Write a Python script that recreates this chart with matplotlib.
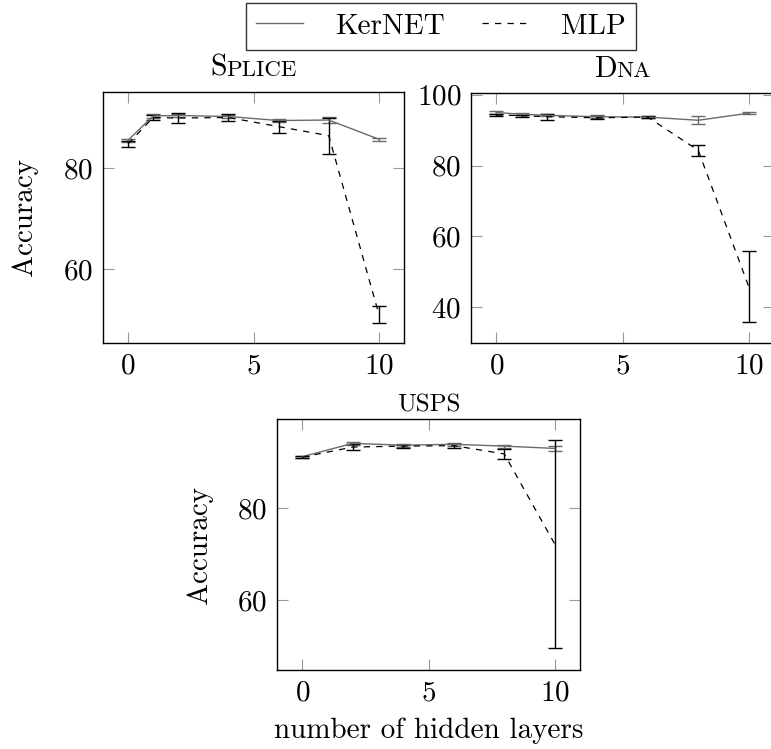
import numpy as np
import matplotlib
matplotlib.use("Agg")
import matplotlib.pyplot as plt
from matplotlib.offsetbox import TextArea, HPacker, AnchoredOffsetbox
from matplotlib.lines import Line2D

# dados (média e desvio)
camadas_splice = [0, 1, 2, 4, 6, 8, 10]
splice_kernet = [85.5, 90.3, 90.4, 90.2, 89.4, 89.5, 85.7]
splice_kernet_err = [0.3, 0.3, 0.3, 0.3, 0.3, 0.6, 0.3]
splice_mlp = [84.8, 90.0, 89.9, 90.0, 88.2, 86.4, 51.0]
splice_mlp_err = [0.6, 0.4, 0.9, 0.6, 1.2, 3.6, 1.6]

camadas_dna = [0, 1, 2, 4, 6, 8, 10]
dna_kernet = [95.0, 94.5, 94.2, 93.8, 93.7, 92.8, 94.8]
dna_kernet_err = [0.3, 0.3, 0.3, 0.4, 0.3, 1.1, 0.2]
dna_mlp = [94.3, 94.1, 93.8, 93.5, 93.7, 84.3, 45.8]
dna_mlp_err = [0.3, 0.3, 0.8, 0.4, 0.3, 1.5, 10.0]

camadas_usps = [0, 2, 4, 6, 8, 10]
usps_kernet = [91.2, 94.1, 93.7, 93.9, 93.5, 93.0]
usps_kernet_err = [0.2, 0.3, 0.3, 0.3, 0.3, 0.6]
usps_mlp = [91.1, 93.3, 93.5, 93.6, 91.8, 72.2]
usps_mlp_err = [0.2, 0.6, 0.3, 0.4, 1.0, 22.6]

FONTE = 21
T_GRANDE = 21.5
T_PEQUENO = 16.5
CINZA = "#6a6a6a"

plt.rcParams["font.family"] = ["cmr10", "DejaVu Serif"]
plt.rcParams["axes.formatter.use_mathtext"] = True
plt.rcParams["font.size"] = FONTE


def titulo(ax, grande, pequeno, y, tam_pequeno=T_PEQUENO):
    # versaletes simuladas: letra grande + resto menor
    partes = []
    if grande:
        partes.append(TextArea(grande, textprops=dict(fontsize=T_GRANDE)))
    if pequeno:
        partes.append(TextArea(pequeno, textprops=dict(fontsize=tam_pequeno)))
    caixa = HPacker(children=partes, align="baseline", pad=0, sep=0)
    anc = AnchoredOffsetbox(loc="lower center", child=caixa, pad=0, borderpad=0,
                            bbox_to_anchor=(0.5, y), bbox_transform=ax.transAxes,
                            frameon=False)
    ax.add_artist(anc)


def desenhar(ax, x, k, k_err, m, m_err, ylim, yticks):
    ax.errorbar(x, k, yerr=k_err, color=CINZA, lw=1.0, elinewidth=1.0,
                capsize=5, capthick=1.0)
    ax.errorbar(x, m, yerr=m_err, color="black", lw=0.9, ls=(0, (5, 5)),
                elinewidth=1.0, capsize=5, capthick=1.0)
    ax.set_xlim(-1, 11)
    ax.set_ylim(*ylim)
    ax.set_xticks([0, 5, 10])
    ax.set_yticks(yticks)
    ax.tick_params(direction="in", top=True, right=True, length=8, width=0.8,
                   color="#999999", labelsize=FONTE, pad=7)
    for s in ax.spines.values():
        s.set_linewidth(1.0)


fig = plt.figure(figsize=(7.71, 7.49), dpi=100)

ax1 = fig.add_axes([103 / 771, 1 - 343 / 749, 301 / 771, 251 / 749])
desenhar(ax1, camadas_splice, splice_kernet, splice_kernet_err,
         splice_mlp, splice_mlp_err, (45.35, 95.05), [60, 80])
ax1.set_ylabel("Accuracy", fontsize=FONTE)
ax1.yaxis.set_label_coords(-0.216, 0.5)
titulo(ax1, "S", "PLICE", 1.04)

ax2 = fig.add_axes([471 / 771, 1 - 343 / 749, 303 / 771, 250 / 749])
desenhar(ax2, camadas_dna, dna_kernet, dna_kernet_err,
         dna_mlp, dna_mlp_err, (29.9, 100.5), [40, 60, 80, 100])
titulo(ax2, "D", "NA", 1.04)

ax3 = fig.add_axes([277 / 771, 1 - 670 / 749, 303 / 771, 251 / 749])
desenhar(ax3, camadas_usps, usps_kernet, usps_kernet_err,
         usps_mlp, usps_mlp_err, (44.8, 99.4), [60, 80])
ax3.set_ylabel("Accuracy", fontsize=FONTE)
ax3.yaxis.set_label_coords(-0.211, 0.5)
ax3.set_xlabel("number of hidden layers", fontsize=FONTE)
ax3.xaxis.set_label_coords(0.5, -0.19)
titulo(ax3, "", "USPS", 1.008, tam_pequeno=18)

# legenda no topo
h1 = Line2D([], [], color=CINZA, lw=1.0)
h2 = Line2D([], [], color="black", lw=0.9, ls=(0, (5, 5)))
leg = fig.legend([h1, h2], ["KerNET", "MLP"], loc="center",
                 bbox_to_anchor=(441 / 771, 1 - 26.5 / 749), ncol=2,
                 fontsize=FONTE, frameon=True, fancybox=False,
                 handlelength=1.6, handletextpad=1.1, columnspacing=1.3,
                 borderpad=0.35, borderaxespad=0)
leg.get_frame().set_edgecolor("black")
leg.get_frame().set_linewidth(1.0)

fig.savefig("out.png", dpi=100)
